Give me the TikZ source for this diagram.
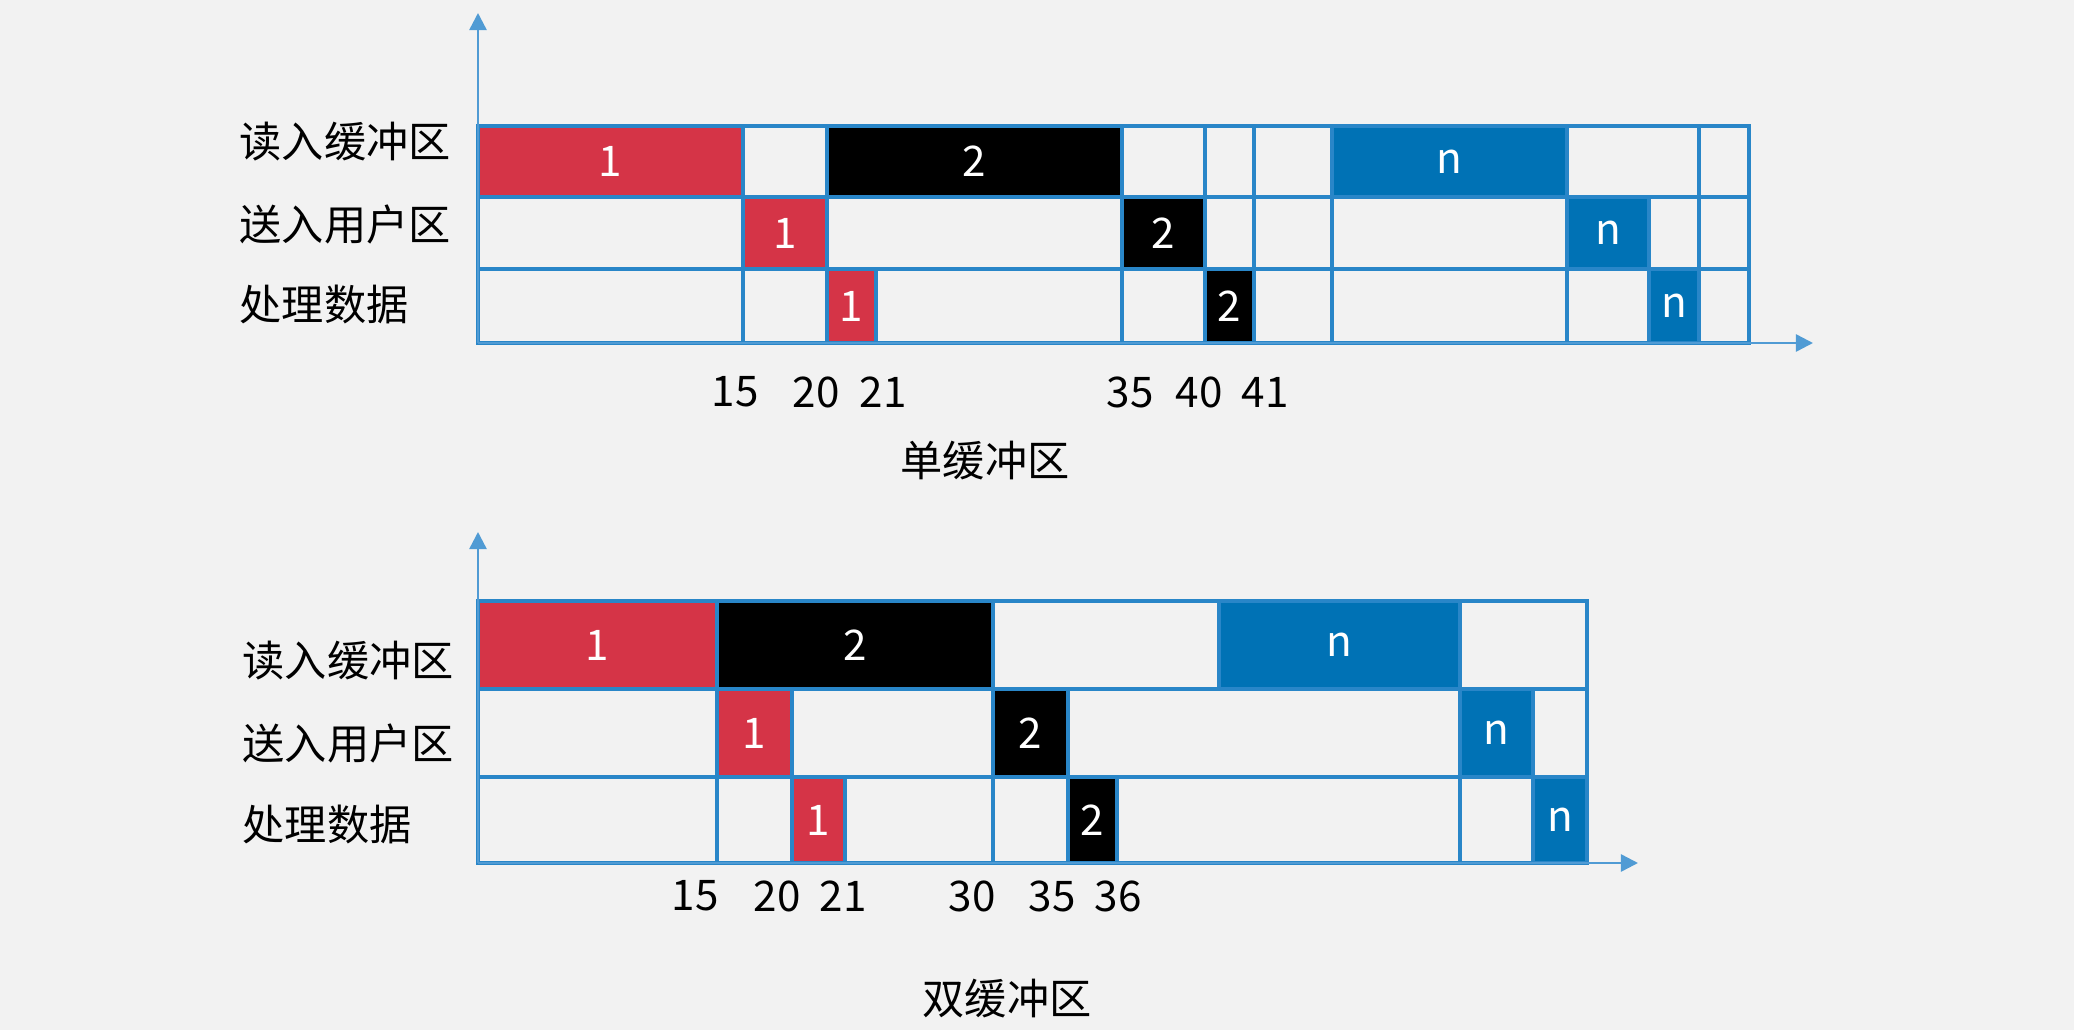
\documentclass[tikz,border=0pt]{standalone}
\usepackage{fontspec}
\setmainfont{Noto Sans CJK SC}
\usepackage{tikz}
\usetikzlibrary{arrows.meta}

\definecolor{gridblue}{RGB}{41,134,200}
\definecolor{axisblue}{RGB}{80,155,212}
\definecolor{readred}{RGB}{213,52,71}
\definecolor{nblue}{RGB}{0,114,181}
\definecolor{bg}{RGB}{242,242,242}

\begin{document}
\begin{tikzpicture}[x=0.01cm, y=-0.01cm]
    \tikzset{
        txt/.style        =   { font=\fontsize{12}{14}\selectfont
                              , inner sep=0pt
        }
        , rowlab/.style   =   { txt
                              , anchor=west
        }
        , num/.style      =   { txt
                              , text=white
        }
        , gridline/.style =   { draw=gridblue
                              , line width=1pt
        }
        , axis/.style     =   { draw=axisblue
                              , line width=0.7pt
                              , -{Triangle[length=0.17cm, width=0.17cm]}
        }
    }
    \fill[bg] (0,0) rectangle (2074,1030);

    % single buffer
    \foreach \xa/\xb/\ya/\yb/\c/\t/\n in {
          478/743/126/197/readred/1/s-r1
        , 827/1122/126/197/black/2/s-r2
        , 1332/1567/126/197/nblue/n/s-rn
        , 743/827/197/269/readred/1/s-u1
        , 1122/1205/197/269/black/2/s-u2
        , 1567/1649/197/269/nblue/n/s-un
        , 827/876/269/343/readred/1/s-p1
        , 1205/1254/269/343/black/2/s-p2
        , 1649/1699/269/343/nblue/n/s-pn
    }{
        \fill[\c] (\xa,\ya) rectangle (\xb,\yb);
        \node[num] (\n) at ({(\xa+\xb)/2},{(\ya+\yb)/2}) {\t};
    }
    \draw[gridline] (478,126) rectangle (1749,343);
    \foreach \y in {197,269}
        \draw[gridline] (478,\y) -- (1749,\y);
    \foreach \x in {743,827,1122,1205,1254,1332,1567,1699}
        \draw[gridline] (\x,126) -- (\x,343);
    \draw[gridline] (1649,197) -- (1649,343);
    \draw[gridline] (876,269) -- (876,343);

    \coordinate (s-o) at (478,343);
    \coordinate (s-y) at (478,13);
    \coordinate (s-x) at (1813,343);
    \draw[axis] (s-o) -- (s-y);
    \draw[axis] (s-o) -- (s-x);

    \node[rowlab] (s-read) at (239,142) {读入缓冲区};
    \node[rowlab] (s-send) at (239,224) {送入用户区};
    \node[rowlab] (s-proc) at (239,305) {处理数据};
    \foreach \x/\t in {735/15,816/20,883/21,1130/35,1199/40,1265/41}
        \node[txt] (st\t) at (\x,392) {\t};
    \node[txt] (s-title) at (985,461) {单缓冲区};

    % double buffer
    \foreach \xa/\xb/\ya/\yb/\c/\t/\n in {
          478/717/601/689/readred/1/d-r1
        , 717/993/601/689/black/2/d-r2
        , 1219/1460/601/689/nblue/n/d-rn
        , 717/792/689/777/readred/1/d-u1
        , 993/1068/689/777/black/2/d-u2
        , 1460/1533/689/777/nblue/n/d-un
        , 792/845/777/863/readred/1/d-p1
        , 1068/1117/777/863/black/2/d-p2
        , 1533/1587/777/863/nblue/n/d-pn
    }{
        \fill[\c] (\xa,\ya) rectangle (\xb,\yb);
        \node[num] (\n) at ({(\xa+\xb)/2},{(\ya+\yb)/2}) {\t};
    }
    \draw[gridline] (478,601) rectangle (1587,863);
    \foreach \y in {689,777}
        \draw[gridline] (478,\y) -- (1587,\y);
    \foreach \x in {717,993,1460}
        \draw[gridline] (\x,601) -- (\x,863);
    \foreach \x in {792,1068,1533}
        \draw[gridline] (\x,689) -- (\x,863);
    \foreach \x in {845,1117}
        \draw[gridline] (\x,777) -- (\x,863);
    \draw[gridline] (1219,601) -- (1219,689);

    \coordinate (d-o) at (478,863);
    \coordinate (d-y) at (478,532);
    \coordinate (d-x) at (1638,863);
    \draw[axis] (d-o) -- (d-y);
    \draw[axis] (d-o) -- (d-x);

    \node[rowlab] (d-read) at (242,661) {读入缓冲区};
    \node[rowlab] (d-send) at (242,743) {送入用户区};
    \node[rowlab] (d-proc) at (242,824) {处理数据};
    \foreach \x/\t in {695/15,777/20,843/21,972/30,1052/35,1118/36}
        \node[txt] (dt\t) at (\x,896) {\t};
    \node[txt] (d-title) at (1007,999) {双缓冲区};
\end{tikzpicture}
\end{document}
